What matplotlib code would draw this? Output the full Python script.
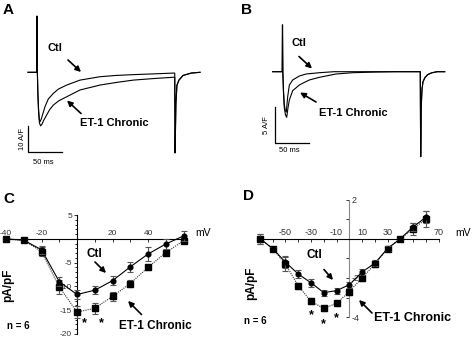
import matplotlib
matplotlib.use('Agg')
import matplotlib.pyplot as plt

plt.rcParams['font.family'] = ['Liberation Sans', 'DejaVu Sans']

# ---------------- data ----------------
# Panel A traces (time ms, current A/F)
A_t_ctl = [0, 13.0, 13.3, 13.8, 14.5, 15.5, 16.6, 17.6, 19.5, 22, 25, 30, 37.3, 45, 57, 76.5, 106, 130, 155, 185, 214, 215.8, 216.3, 217.5, 219, 222, 228, 240, 253]
A_i_ctl = [0, 0, 21.6, 0, -8, -14, -18, -19.0, -18.0, -15.8, -13.2, -10.2, -8.1, -6.4, -4.9, -3.0, -1.7, -1.2, -0.9, -0.6, -0.3, -0.3, -31, -12, -5, -3, -1.2, -0.3, 0]
A_t_et = [0, 13.0, 13.3, 13.8, 14.5, 15.5, 16.8, 18.6, 20.5, 23, 27.5, 32, 37.3, 45, 57, 76.5, 106, 130, 155, 185, 214, 215.8, 216.3, 217.5, 219, 222, 228, 240, 253]
A_i_et = [0, 0, 21.6, 0, -8, -15, -19.5, -20.6, -20.0, -18.5, -16.4, -14.3, -12.6, -11.0, -9.4, -6.8, -4.9, -3.9, -3.0, -2.4, -1.9, -1.9, -31, -12, -5, -3, -1.2, -0.3, 0]

# Panel B traces
B_t_ctl = [0, 14.0, 14.4, 14.9, 15.8, 17.0, 18.5, 20.0, 22.0, 24.5, 29.4, 39.2, 49, 68.6, 90, 130, 180, 217, 217.6, 218.4, 219.5, 221, 224, 228, 234, 242, 253]
B_i_ctl = [0, 0, 6.5, 0, -2.5, -4.5, -5.4, -5.6, -3.5, -1.85, -1.15, -0.6, -0.32, -0.14, 0, 0, 0, 0, -11.8, -5, -2.5, -1.4, -0.8, -0.4, -0.15, 0, 0]
B_t_et = [0, 14.0, 14.4, 14.9, 15.8, 17.0, 18.8, 20.6, 22.5, 24.5, 29.4, 39.2, 44.1, 53.9, 68.6, 93.1, 117.6, 150, 180, 217, 217.6, 218.4, 219.5, 221, 224, 228, 234, 242, 253]
B_i_et = [0, 0, 6.5, 0, -2.8, -5.0, -6.0, -6.34, -5.0, -3.93, -2.63, -1.85, -1.6, -1.15, -0.78, -0.32, -0.14, -0.05, 0, 0, -11.8, -5, -2.5, -1.4, -0.8, -0.4, -0.15, 0, 0]

# Panel C I-V
C_mv = [-40, -30, -20, -10, 0, 10, 20, 30, 40, 50, 60]
C_ctl = [0.0, -0.3, -2.3, -9.0, -11.7, -10.8, -8.8, -5.9, -3.2, -1.1, 0.6]
C_ctl_err = [0.2, 0.2, 0.8, 1.0, 1.0, 0.9, 1.0, 1.0, 1.4, 1.0, 1.0]
C_et = [-0.1, -0.3, -2.7, -10.1, -15.4, -14.6, -12.1, -9.4, -6.0, -2.9, -0.4]
C_et_err = [0.2, 0.2, 1.0, 1.5, 1.3, 1.2, 1.0, 0.8, 0.6, 0.6, 0.3]
C_xticks = [-40, -20, 0, 20, 40, 60]
C_xlabels = ['-40', '-20', '', '20', '40', '']
C_yticks = [5, 0, -5, -10, -15, -20]
C_ylabels = ['5', '', '-5', '-10', '-15', '-20']
C_star_x = [0, 10]
C_star_y = [-17.7, -17.7]

# Panel D I-V
D_mv = [-70, -60, -50, -40, -30, -20, -10, 0, 10, 20, 30, 40, 50, 60]
D_ctl = [0.0, -0.5, -1.2, -1.8, -2.25, -2.75, -2.65, -2.35, -1.7, -1.25, -0.5, 0.0, 0.6, 1.1]
D_ctl_err = [0.25, 0.1, 0.3, 0.2, 0.2, 0.15, 0.15, 0.15, 0.15, 0.15, 0.15, 0.05, 0.2, 0.3]
D_et = [0.0, -0.5, -1.3, -2.4, -3.2, -3.55, -3.3, -2.7, -2.0, -1.3, -0.5, 0.0, 0.5, 1.0]
D_et_err = [0.25, 0.1, 0.35, 0.15, 0.15, 0.12, 0.12, 0.15, 0.15, 0.15, 0.15, 0.05, 0.3, 0.4]
D_xticks = [-50, -30, -10, 10, 30, 50, 70]
D_xlabels = ['-50', '-30', '-10', '10', '30', '', '70']
D_xminor = [-70, -60, -40, -20, 0, 20, 40, 60]
D_yticks = [2, 0, -2, -4]
D_ylabels = ['2', '', '-2', '-4']
D_star_x = [-30, -20, -10]
D_star_y = [-3.88, -4.35, -4.08]

# ---------------- figure ----------------
W, H = 473, 337
fig = plt.figure(figsize=(W / 100, H / 100), dpi=100)


def make_ax(px0, px1, py0, py1, xa, xb, ya, yb):
    ax = fig.add_axes([px0 / W, 1 - py1 / H, (px1 - px0) / W, (py1 - py0) / H])
    ax.set_xlim((px0 - xa) / xb, (px1 - xa) / xb)
    ax.set_ylim((ya - py1) / yb, (ya - py0) / yb)
    ax.patch.set_alpha(0)
    return ax


# Panel A
axA = make_ax(0, 236, 0, 168, 28, 0.68, 72.3, 2.6)
axA.axis('off')
axA.plot(A_t_ctl, A_i_ctl, color='black', lw=0.8)
axA.plot(A_t_et, A_i_et, color='black', lw=0.8)
axA.plot([0, 0, 50], [-20.6, -30.6, -30.6], color='black', lw=0.9)

# Panel B
axB = make_ax(236, 473, 0, 168, 272.7, 0.68, 71.7, 7.2)
axB.axis('off')
axB.plot(B_t_ctl, B_i_ctl, color='black', lw=0.8)
axB.plot(B_t_et, B_i_et, color='black', lw=0.8)
axB.plot([3.4, 3.4, 53.4], [-4.9, -9.9, -9.9], color='black', lw=0.9)


def iv_plot(ax, x, y1, e1, y2, e2, ms1, ms2):
    ax.plot(x, y2, ls=(0, (1, 1)), color='#333333', lw=0.8, zorder=2, clip_on=False)
    ax.plot(x, y1, ls='-', color='black', lw=0.8, zorder=2, clip_on=False)
    ax.errorbar(x, y2, yerr=e2, fmt='s', ms=ms2, color='black', ecolor='#555555',
                elinewidth=0.8, capsize=2, capthick=0.8, zorder=3, clip_on=False)
    ax.errorbar(x, y1, yerr=e1, fmt='o', ms=ms1, color='black', ecolor='#555555',
                elinewidth=0.8, capsize=2, capthick=0.8, zorder=4, clip_on=False)


# Panel C
axC = make_ax(0, 236, 185, 337, 77, 1.775, 238.8, 4.76)
for s in ['right', 'bottom']:
    axC.spines[s].set_visible(False)
axC.spines['left'].set_position(('data', 0))
axC.spines['left'].set_bounds(-20, 5)
axC.spines['top'].set_position(('data', 0))
axC.spines['top'].set_bounds(-41.7, 60.5)
for s in ['left', 'top']:
    axC.spines[s].set_linewidth(0.8)
axC.xaxis.set_ticks_position('top')
axC.set_xticks(C_xticks)
axC.set_xticklabels(C_xlabels)
axC.set_xticks([-30, -10, 10, 30, 50], minor=True)
axC.set_yticks(C_yticks)
axC.set_yticklabels(C_ylabels)
axC.set_yticks([v for v in range(-19, 5) if v % 5 != 0], minor=True)
axC.tick_params(axis='x', which='both', direction='in', length=2.5, width=0.7,
                labelsize=6, pad=1, colors='#333333')
axC.tick_params(axis='y', which='major', direction='out', length=2.5, width=0.7,
                labelsize=6, pad=1, colors='#333333')
axC.tick_params(axis='y', which='minor', direction='out', length=1.5, width=0.6)
iv_plot(axC, C_mv, C_ctl, C_ctl_err, C_et, C_et_err, 3.4, 3.8)
for sx, sy in zip(C_star_x, C_star_y):
    axC.text(sx + 4, sy, '*', ha='center', va='center', fontsize=9, fontweight='bold')

# Panel D
axD = make_ax(236, 473, 185, 337, 349.3, 1.277, 238.7, 19.6)
for s in ['left', 'bottom']:
    axD.spines[s].set_visible(False)
axD.spines['right'].set_position(('data', 0))
axD.spines['right'].set_bounds(-4, 2)
axD.spines['right'].set_color('#888888')
axD.spines['top'].set_position(('data', 0))
axD.spines['top'].set_bounds(-71, 70)
for s in ['right', 'top']:
    axD.spines[s].set_linewidth(0.8)
axD.xaxis.set_ticks_position('top')
axD.yaxis.set_ticks_position('right')
axD.set_xticks(D_xticks)
axD.set_xticklabels(D_xlabels)
axD.set_xticks(D_xminor, minor=True)
axD.set_yticks(D_yticks)
axD.set_yticklabels(D_ylabels)
axD.set_yticks([1, -1, -3], minor=True)
axD.tick_params(axis='x', which='both', direction='in', length=2.5, width=0.7,
                labelsize=6.5, pad=1, colors='#333333')
axD.tick_params(axis='y', which='both', direction='in', length=2.5, width=0.7,
                labelsize=6.5, pad=1.5, colors='#333333')
iv_plot(axD, D_mv, D_ctl, D_ctl_err, D_et, D_et_err, 3.4, 4.2)
for sx, sy in zip(D_star_x, D_star_y):
    axD.text(sx, sy, '*', ha='center', va='center', fontsize=9, fontweight='bold')

# ---------------- overlay text / arrows ----------------
ov = fig.add_axes([0, 0, 1, 1])
ov.set_xlim(0, W)
ov.set_ylim(H, 0)
ov.axis('off')
ov.patch.set_alpha(0)


def T(x, y, s, size, weight='bold', ha='left', va='center', rot=0):
    ov.text(x, y, s, fontsize=size, fontweight=weight, ha=ha, va=va, rotation=rot)


def AR(x0, y0, x1, y1):
    ov.annotate('', xy=(x1, y1), xytext=(x0, y0),
                arrowprops=dict(arrowstyle='-|>', lw=1.2, color='black',
                                mutation_scale=8, shrinkA=0, shrinkB=0))


# letters
T(3, 10, 'A', 11)
T(241, 10, 'B', 11)
T(3, 199, 'C', 11)
T(243, 196, 'D', 11)

# A
T(47, 48, 'Ctl', 8)
AR(68, 60, 81, 72)
AR(81, 113.5, 67, 100.5)
T(80, 122.5, 'ET-1 Chronic', 8)
T(22, 139, '10 A/F', 5.5, weight='normal', ha='center', rot=90)
T(43, 163, '50 ms', 5.5, weight='normal', ha='center')

# B
T(291, 43.5, 'Ctl', 8)
AR(299, 56.5, 312, 68.5)
AR(316, 102, 300, 92.5)
T(319, 113.5, 'ET-1 Chronic', 8)
T(266, 125, '5 A/F', 5.5, weight='normal', ha='center', rot=90)
T(289, 150, '50 ms', 5.5, weight='normal', ha='center')

# C
T(86, 254, 'Ctl', 8.5)
AR(95, 262, 106, 273)
AR(141.5, 314.5, 128, 301)
T(119, 326, 'ET-1 Chronic', 8.5)
T(7, 326, 'n = 6', 7)
T(8, 285, 'pA/pF', 8.5, ha='center', rot=90)
T(195, 233, 'mV', 7.5, weight='normal')

# D
T(306, 255.5, 'Ctl', 8.5)
AR(324, 269.5, 333, 280)
AR(372, 313, 359, 300)
T(374, 318, 'ET-1 Chronic', 9)
T(244, 321.5, 'n = 6', 7)
T(251, 283, 'pA/pF', 8.5, ha='center', rot=90)
T(455, 233, 'mV', 7.5, weight='normal')

fig.savefig('out.png', dpi=100)
